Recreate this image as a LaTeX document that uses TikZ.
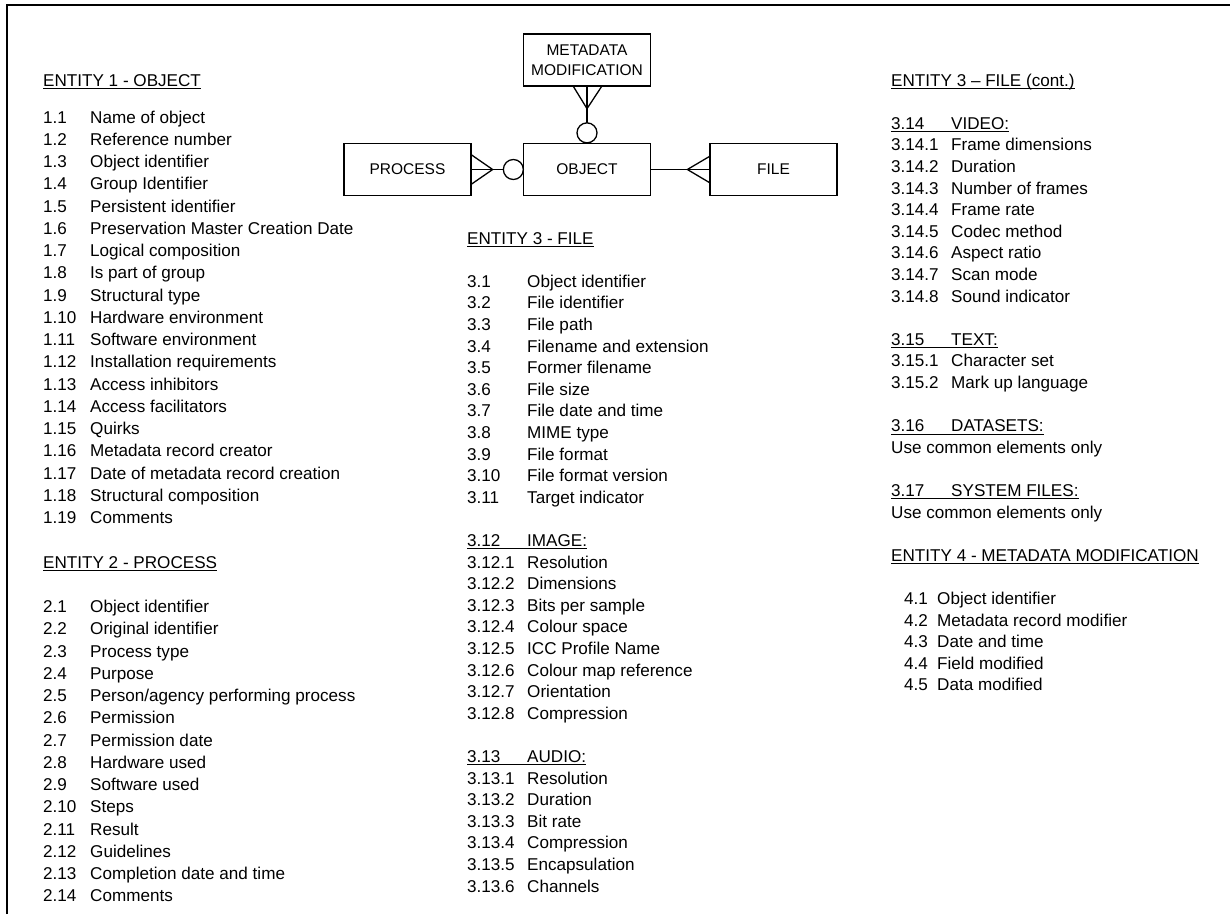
\documentclass[tikz,border=0pt]{standalone}
\usepackage{fontspec}
\setmainfont{Liberation Sans}
% one list row: number node and text node on a common baseline
% #1 name, #2 x of number, #3 x of text, #4 first baseline, #5 step, #6 index, #7 number, #8 text
\newcommand\entry[8]{%
  \pgfmathsetmacro\ey{#4+#5*#6}%
  \node[lbl] (#1n) at (#2,\ey) {#7};
  \node[lbl] (#1t) at (#3,\ey) {#8};}
\newcommand\rowA[3]{\entry{a#1}{43}{90}{123}{22.25}{#1}{#2}{#3}}
\newcommand\rowB[3]{\entry{b#1}{467}{527}{244}{21.6}{#1}{#2}{#3}}
\newcommand\rowC[3]{\entry{c#1}{891}{951}{86}{21.6}{#1}{#2}{#3}}
\newcommand\rowD[3]{\entry{d#1}{904}{937}{86}{21.6}{#1}{#2}{#3}}
\begin{document}
\begin{tikzpicture}[x=1pt,y=-1pt,
  lbl/.style={anchor=base west,inner sep=0pt,font=\fontsize{17.1}{20}\selectfont},
  ent/.style={draw,line width=1.3pt,minimum width=127pt,minimum height=52pt,inner sep=0pt,
              font=\fontsize{15.5}{20}\selectfont,align=center},
  rel/.style={line width=1.3pt},
  opt/.style={circle,draw,line width=1.3pt,fill=white,minimum size=20pt,inner sep=0pt},
  ul/.style={line width=1pt},
  frame/.style={line width=2.2pt}]
\useasboundingbox (0,0) rectangle (1230,914);

% page frame (top and left edges)
\draw[frame] (7,914) -- (7,5) -- (1230,5);

% ---------- entity-relationship diagram ----------
\node[ent] (mm)   at (587,60)    {METADATA\\MODIFICATION};
\node[ent] (proc) at (407.5,169.5) {PROCESS};
\node[ent] (obj)  at (587,169.5) {OBJECT};
\node[ent] (file) at (773.5,169.5) {FILE};

% METADATA MODIFICATION (many) -- OBJECT (optional one)
\draw[rel] (mm.south) -- (obj.north);
\draw[rel] ([xshift=-13.5pt]mm.south) -- ([yshift=-22pt]mm.south) -- ([xshift=14.5pt]mm.south);
\node[opt] (o1) at ([yshift=10pt]obj.north) {};

% PROCESS (many) -- OBJECT (optional one)
\draw[rel] (proc.east) -- (obj.west);
\draw[rel] ([yshift=14.5pt]proc.east) -- ([xshift=21pt]proc.east) -- ([yshift=-14.5pt]proc.east);
\node[opt] (o2) at ([xshift=-9.5pt]obj.west) {};

% OBJECT -- FILE (many)
\draw[rel] (obj.east) -- (file.west);
\draw[rel] ([yshift=13pt]file.west) -- ([xshift=-22pt]file.west) -- ([yshift=-13pt]file.west);

% ---------- column 1 ----------
\node[lbl] (h1) at (43,86) {ENTITY 1 - OBJECT};
\draw[ul] ([yshift=-2.5pt]h1.base west) -- ([yshift=-2.5pt]h1.base east);
\rowA{0}{1.1}{Name of object}
\rowA{1}{1.2}{Reference number}
\rowA{2}{1.3}{Object identifier}
\rowA{3}{1.4}{Group Identifier}
\rowA{4}{1.5}{Persistent identifier}
\rowA{5}{1.6}{Preservation Master Creation Date}
\rowA{6}{1.7}{Logical composition}
\rowA{7}{1.8}{Is part of group}
\rowA{8}{1.9}{Structural type}
\rowA{9}{1.10}{Hardware environment}
\rowA{10}{1.11}{Software environment}
\rowA{11}{1.12}{Installation requirements}
\rowA{12}{1.13}{Access inhibitors}
\rowA{13}{1.14}{Access facilitators}
\rowA{14}{1.15}{Quirks}
\rowA{15}{1.16}{Metadata record creator}
\rowA{16}{1.17}{Date of metadata record creation}
\rowA{17}{1.18}{Structural composition}
\rowA{18}{1.19}{Comments}
\node[lbl] (h2) at (43,{123+20*22.25}) {ENTITY 2 - PROCESS};
\draw[ul] ([yshift=-2.5pt]h2.base west) -- ([yshift=-2.5pt]h2.base east);
\rowA{22}{2.1}{Object identifier}
\rowA{23}{2.2}{Original identifier}
\rowA{24}{2.3}{Process type}
\rowA{25}{2.4}{Purpose}
\rowA{26}{2.5}{Person/agency performing process}
\rowA{27}{2.6}{Permission}
\rowA{28}{2.7}{Permission date}
\rowA{29}{2.8}{Hardware used}
\rowA{30}{2.9}{Software used}
\rowA{31}{2.10}{Steps}
\rowA{32}{2.11}{Result}
\rowA{33}{2.12}{Guidelines}
\rowA{34}{2.13}{Completion date and time}
\rowA{35}{2.14}{Comments}

% ---------- column 2 ----------
\node[lbl] (h3) at (467,244) {ENTITY 3 - FILE};
\draw[ul] ([yshift=-2.5pt]h3.base west) -- ([yshift=-2.5pt]h3.base east);
\rowB{2}{3.1}{Object identifier}
\rowB{3}{3.2}{File identifier}
\rowB{4}{3.3}{File path}
\rowB{5}{3.4}{Filename and extension}
\rowB{6}{3.5}{Former filename}
\rowB{7}{3.6}{File size}
\rowB{8}{3.7}{File date and time}
\rowB{9}{3.8}{MIME type}
\rowB{10}{3.9}{File format}
\rowB{11}{3.10}{File format version}
\rowB{12}{3.11}{Target indicator}
\rowB{14}{3.12}{IMAGE:}
\draw[ul] ([yshift=-2.5pt]b14n.base west) -- ([yshift=-2.5pt]b14t.base east);
\rowB{15}{3.12.1}{Resolution}
\rowB{16}{3.12.2}{Dimensions}
\rowB{17}{3.12.3}{Bits per sample}
\rowB{18}{3.12.4}{Colour space}
\rowB{19}{3.12.5}{ICC Profile Name}
\rowB{20}{3.12.6}{Colour map reference}
\rowB{21}{3.12.7}{Orientation}
\rowB{22}{3.12.8}{Compression}
\rowB{24}{3.13}{AUDIO:}
\draw[ul] ([yshift=-2.5pt]b24n.base west) -- ([yshift=-2.5pt]b24t.base east);
\rowB{25}{3.13.1}{Resolution}
\rowB{26}{3.13.2}{Duration}
\rowB{27}{3.13.3}{Bit rate}
\rowB{28}{3.13.4}{Compression}
\rowB{29}{3.13.5}{Encapsulation}
\rowB{30}{3.13.6}{Channels}

% ---------- column 3 ----------
\node[lbl] (h4) at (891,86) {ENTITY 3 – FILE (cont.)};
\draw[ul] ([yshift=-2.5pt]h4.base west) -- ([yshift=-2.5pt]h4.base east);
\rowC{2}{3.14}{VIDEO:}
\draw[ul] ([yshift=-2.5pt]c2n.base west) -- ([yshift=-2.5pt]c2t.base east);
\rowC{3}{3.14.1}{Frame dimensions}
\rowC{4}{3.14.2}{Duration}
\rowC{5}{3.14.3}{Number of frames}
\rowC{6}{3.14.4}{Frame rate}
\rowC{7}{3.14.5}{Codec method}
\rowC{8}{3.14.6}{Aspect ratio}
\rowC{9}{3.14.7}{Scan mode}
\rowC{10}{3.14.8}{Sound indicator}
\rowC{12}{3.15}{TEXT:}
\draw[ul] ([yshift=-2.5pt]c12n.base west) -- ([yshift=-2.5pt]c12t.base east);
\rowC{13}{3.15.1}{Character set}
\rowC{14}{3.15.2}{Mark up language}
\rowC{16}{3.16}{DATASETS:}
\draw[ul] ([yshift=-2.5pt]c16n.base west) -- ([yshift=-2.5pt]c16t.base east);
\node[lbl] (u1) at (891,{86+17*21.6}) {Use common elements only};
\rowC{19}{3.17}{SYSTEM FILES:}
\draw[ul] ([yshift=-2.5pt]c19n.base west) -- ([yshift=-2.5pt]c19t.base east);
\node[lbl] (u2) at (891,{86+20*21.6}) {Use common elements only};
\node[lbl] (h5) at (891,{86+22*21.6}) {ENTITY 4 - METADATA MODIFICATION};
\draw[ul] ([yshift=-2.5pt]h5.base west) -- ([yshift=-2.5pt]h5.base east);
\rowD{24}{4.1}{Object identifier}
\rowD{25}{4.2}{Metadata record modifier}
\rowD{26}{4.3}{Date and time}
\rowD{27}{4.4}{Field modified}
\rowD{28}{4.5}{Data modified}
\end{tikzpicture}
\end{document}
